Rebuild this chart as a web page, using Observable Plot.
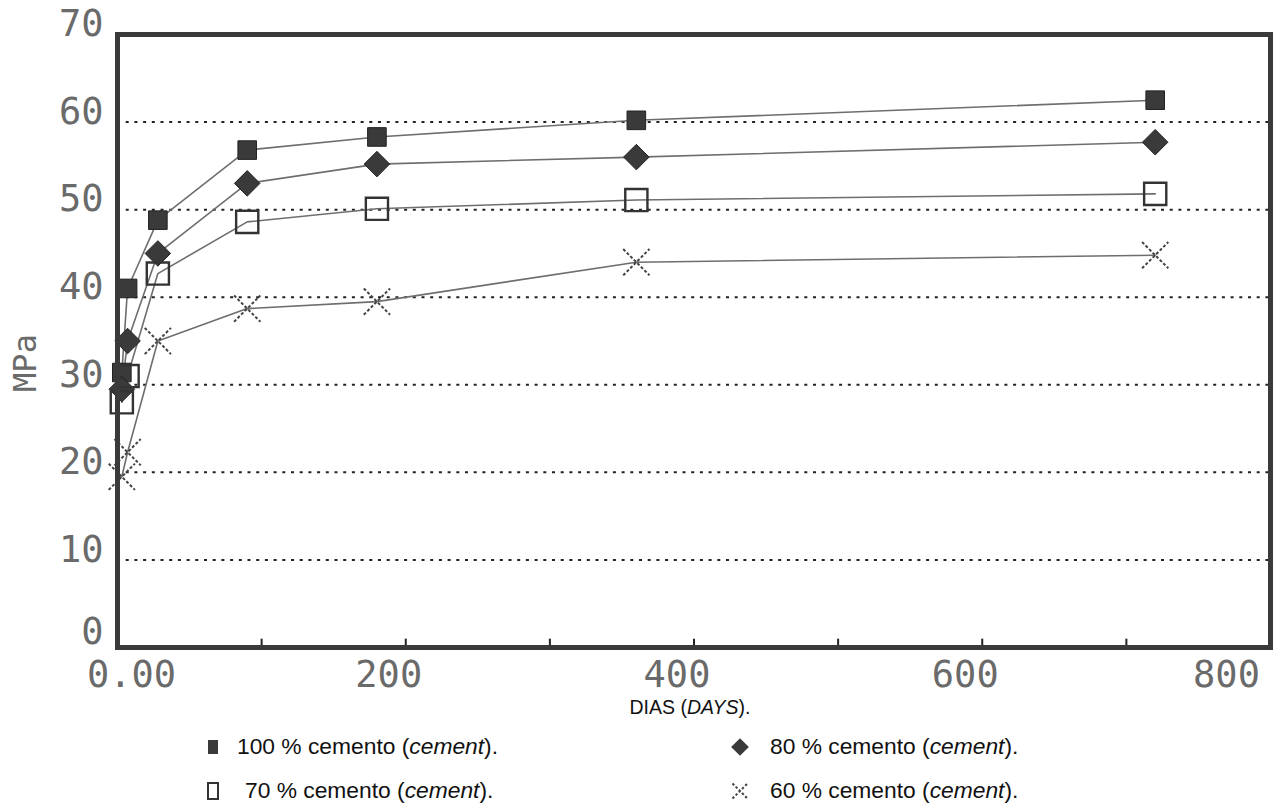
<!DOCTYPE html>
<html>
<head>
<meta charset="utf-8">
<script src="https://cdn.jsdelivr.net/npm/d3@7"></script>
<script src="https://cdn.jsdelivr.net/npm/@observablehq/plot@0.6"></script>
<style>
  html, body { margin: 0; padding: 0; background: #fff; }
  #wrap { position: relative; width: 1278px; height: 812px; overflow: hidden; }
  #chart { position: absolute; left: 0; top: 0; }
  .lab { position: absolute; font-family: "Liberation Sans", Arial, sans-serif; color: #111; white-space: pre; line-height: 1; }
  .xt { font-size: 19.5px; transform: translateX(-50%); }
  .lg { font-size: 22.8px; }
  .mk { position: absolute; }
</style>
</head>
<body>
<div id="wrap">
  <div id="chart"></div>
</div>
<script>
// ---- data ----
const days = [3, 7, 28, 90, 180, 360, 720];
const cement100 = [31.4, 41.0, 48.8, 56.8, 58.3, 60.2, 62.5];
const cement80  = [29.5, 35.0, 45.0, 53.0, 55.2, 56.0, 57.7];
const cement70  = [28.0, 31.0, 42.7, 48.6, 50.1, 51.1, 51.8];
const cement60  = [19.5, 22.3, 35.0, 38.7, 39.5, 44.0, 44.8];
const seriesNames = ["100 % cemento", "80 % cemento", "70 % cemento", "60 % cemento"];
const yZeroTick = [0];
const yTicks = [10, 20, 30, 40, 50, 60, 70];
const yGrid = [10, 20, 30, 40, 50, 60];
const xFirstLabel = [0];
const xMidLabels = [200, 400, 600];
const xLastLabel = [800];
const xMinorTicks = [100, 200, 300, 400, 500, 600, 700];
const xTitle = "DIAS";
const xTitleEn = "DAYS";
const yTitle = "MPa";

const allSeries = [cement100, cement80, cement70, cement60];
const rows = [];
allSeries.forEach((vals, i) => vals.forEach((v, j) => rows.push({series: seriesNames[i], day: days[j], mpa: v})));
const bySeries = name => rows.filter(r => r.series === name);

const dark = "#3a3a3a";
const mono = "DejaVu Sans Mono, monospace";
const axisStyle = {tickSize: 0, fontSize: 37, fontFamily: mono, fill: "#6a6a6a", label: null};
const fmtX = d => d === 0 ? "0.00" : String(d);

const chart = Plot.plot({
  width: 1278,
  height: 700,
  marginLeft: 117,
  marginRight: 8,
  marginTop: 34,
  marginBottom: 53,
  style: {background: "transparent"},
  x: {domain: [0, 800]},
  y: {domain: [0, 70]},
  marks: [
    Plot.ruleY(yGrid, {stroke: "#222", strokeWidth: 2, strokeDasharray: "3,5.7"}),
    Plot.ruleX(xMinorTicks, {y1: 0, y2: 0.95, stroke: "#222", strokeWidth: 2}),
    Plot.line(rows, {x: "day", y: "mpa", z: "series", stroke: "#6e6e6e", strokeWidth: 1.6}),
    Plot.dot(bySeries(seriesNames[0]), {x: "day", y: "mpa", symbol: "square", r: 10.5, fill: dark, stroke: "#222", strokeWidth: 1}),
    Plot.dot(bySeries(seriesNames[1]), {x: "day", y: "mpa", symbol: "diamond2", r: 11.5, fill: dark, stroke: "#222", strokeWidth: 1}),
    Plot.dot(bySeries(seriesNames[2]), {x: "day", y: "mpa", symbol: "square", r: 12.5, fill: "white", fillOpacity: 0, stroke: "#333", strokeWidth: 2.4}),
    Plot.dot(bySeries(seriesNames[3]), {x: "day", y: "mpa", symbol: "times", r: 12, stroke: "#444", strokeWidth: 2, strokeDasharray: "3,2"}),
    Plot.frame({stroke: dark, strokeWidth: 5}),
    Plot.axisY({ticks: yTicks, dy: -10, tickPadding: 14, ...axisStyle}),
    Plot.axisY({ticks: yZeroTick, dy: -15, tickPadding: 14, ...axisStyle}),
    Plot.axisX({ticks: xFirstLabel, dx: 14, tickPadding: 13, tickFormat: fmtX, ...axisStyle}),
    Plot.axisX({ticks: xMidLabels, dx: -17, tickPadding: 13, tickFormat: fmtX, ...axisStyle}),
    Plot.axisX({ticks: xLastLabel, dx: -44, tickPadding: 13, tickFormat: fmtX, ...axisStyle}),
    Plot.text([yTitle], {frameAnchor: "left", textAnchor: "middle", dx: -92, dy: 22, rotate: -90, fontSize: 32, fontFamily: mono, fill: "#6a6a6a"})
  ]
});
document.getElementById("chart").appendChild(chart);

// ---- x title and legend below the SVG ----
const wrap = document.getElementById("wrap");
function addLabel(html, cls, left, top) {
  const d = document.createElement("div");
  d.className = "lab " + cls;
  d.innerHTML = html;
  d.style.left = left + "px";
  d.style.top = top + "px";
  wrap.appendChild(d);
  return d;
}
addLabel(`${xTitle} (<i>${xTitleEn}</i>).`, "xt", 690, 698);

function marker(kind, cx, cy) {
  const s = 28;
  const svg = d3.create("svg").attr("class", "mk").attr("width", s).attr("height", s)
    .style("left", (cx - s / 2) + "px").style("top", (cy - s / 2) + "px");
  const g = svg.append("g").attr("transform", `translate(${s / 2},${s / 2})`);
  if (kind === 0) g.append("rect").attr("x", -5).attr("y", -7).attr("width", 10).attr("height", 14).attr("fill", dark);
  if (kind === 1) g.append("path").attr("d", d3.symbol(d3.symbolDiamond2, 200)()).attr("fill", dark);
  if (kind === 2) g.append("rect").attr("x", -5).attr("y", -8).attr("width", 10).attr("height", 16).attr("fill", "none").attr("stroke", "#333").attr("stroke-width", 2);
  if (kind === 3) g.append("path").attr("d", d3.symbol(d3.symbolTimes, 150)()).attr("fill", "none").attr("stroke", "#444").attr("stroke-width", 2).attr("stroke-dasharray", "2.5,2");
  wrap.appendChild(svg.node());
}
const legendPos = [
  {kind: 0, mx: 213, my: 747},
  {kind: 1, mx: 740, my: 747},
  {kind: 2, mx: 213, my: 791},
  {kind: 3, mx: 740, my: 791}
];
const legendTextX = [237, 770, 245, 770];
legendPos.forEach((p, i) => {
  marker(p.kind, p.mx, p.my);
  addLabel(`${seriesNames[i]} (<i>cement</i>).`, "lg", legendTextX[i], p.my - 12);
});
</script>
</body>
</html>
